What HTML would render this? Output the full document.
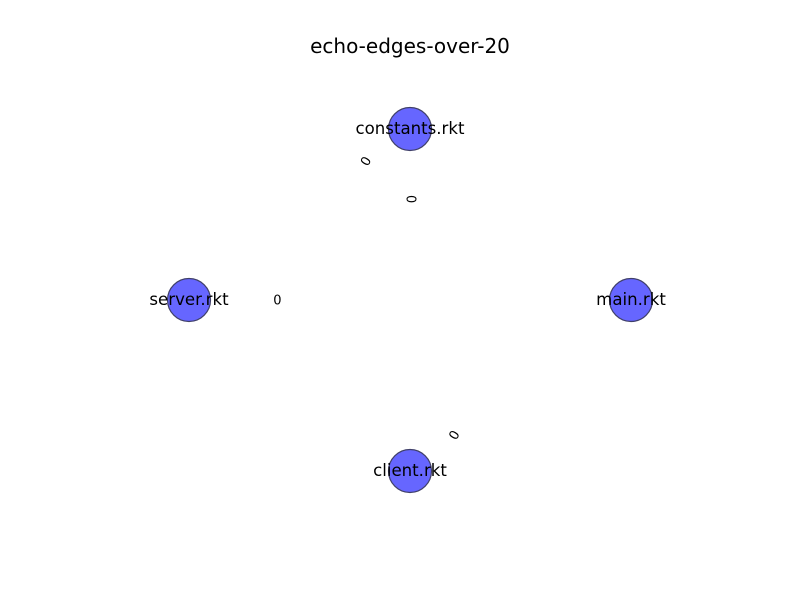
<!DOCTYPE html>
<html><head><meta charset="utf-8"><style>
html,body{margin:0;padding:0;background:#fff;}
svg{display:block;font-family:"DejaVu Sans","Liberation Sans",sans-serif;}
</style></head><body>
<svg id="chart" width="800" height="600" viewBox="0 0 800 600">
<rect width="800" height="600" fill="#fff"/>
<text x="410" y="53" text-anchor="middle" font-size="20" fill="#000">echo-edges-over-20</text>
<g id="edge-labels"></g>
<g id="nodes"></g>
</svg>
<script>
const nodeNames = ["constants.rkt","server.rkt","main.rkt","client.rkt"];
const nodeX = [0.5, 0, 1, 0.5];
const nodeY = [1, 0.5, 0.5, 0];
const edgeLabels = ["0","0","0","0"];
const edgeLabelX = [0.4, 0.505, 0.2, 0.6];
const edgeLabelY = [0.906, 0.795, 0.5, 0.105];
const edgeLabelAngle = [-60, -90, 0, -60];

const sx = v => 189 + v * (631 - 189);
const sy = v => 471 - v * (471 - 129);
const NS = "http://www.w3.org/2000/svg";
const eg = document.getElementById("edge-labels");
edgeLabels.forEach((t, i) => {
  const el = document.createElementNS(NS, "text");
  const x = sx(edgeLabelX[i]), y = sy(edgeLabelY[i]);
  el.setAttribute("x", x); el.setAttribute("y", y + 4.5);
  el.setAttribute("text-anchor", "middle"); el.setAttribute("font-size", "13");
  el.setAttribute("transform", `rotate(${edgeLabelAngle[i]} ${x} ${y})`);
  el.textContent = t;
  
  
  eg.appendChild(el);
});
const ng = document.getElementById("nodes");
nodeNames.forEach((n, i) => {
  const x = sx(nodeX[i]), y = sy(nodeY[i]);
  const c = document.createElementNS(NS, "circle");
  c.setAttribute("cx", x); c.setAttribute("cy", y); c.setAttribute("r", 21.5);
  c.setAttribute("fill", "#6666ff"); c.setAttribute("stroke", "#40406a"); c.setAttribute("stroke-width", "1.2");
  
  
  ng.appendChild(c);
  const t = document.createElementNS(NS, "text");
  t.setAttribute("x", x); t.setAttribute("y", y + 5);
  t.setAttribute("text-anchor", "middle"); t.setAttribute("font-size", "16.6");
  t.textContent = n;
  
  
  ng.appendChild(t);
});
</script>
</body></html>
